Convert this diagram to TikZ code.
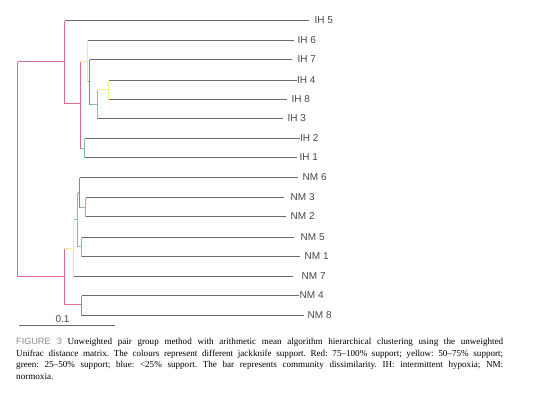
\documentclass[tikz,border=0pt]{standalone}
\usepackage{fontspec}
\setmainfont{Liberation Serif}
\newfontfamily\labfont{Liberation Sans}
\definecolor{cred}{HTML}{DC6A98}
\definecolor{cyel}{HTML}{F4EA88}
\definecolor{cgrn}{HTML}{86BF98}
\definecolor{cblu}{HTML}{6F8BC4}
\definecolor{cleaf}{HTML}{6A6A6A}
\definecolor{labgray}{HTML}{484848}
\definecolor{figgray}{HTML}{8A8A8A}
\begin{document}
\frenchspacing
\begin{tikzpicture}[x=1pt,y=-1pt,
  br/.style={line width=1.15pt},
  bred/.style={br,draw=cred},
  byel/.style={br,draw=cyel},
  bgrn/.style={br,draw=cgrn},
  bblu/.style={br,draw=cblu},
  bleaf/.style={line width=1pt,draw=cleaf},
  lab/.style={anchor=west,inner ysep=0pt,text=labgray,font=\labfont\fontsize{10}{11}\selectfont},
  captext/.style={anchor=north west,inner sep=0pt,text width=487pt,align=justify,font=\fontsize{9.1}{11.7}\selectfont}]
\useasboundingbox (0,0) rectangle (554,397);
\begin{scope}[shift={(0.5,0.5)}]
% internal nodes
\coordinate (root) at (17,168);
\coordinate (ih) at (64,61);
\coordinate (a) at (80,103);
\coordinate (b) at (87,61);
\coordinate (d) at (89,81);
\coordinate (e) at (97,104);
\coordinate (f) at (108,89);
\coordinate (c) at (84,148);
\coordinate (nm) at (64,276);
\coordinate (g) at (73,248);
\coordinate (i) at (77,219);
\coordinate (j) at (79,192);
\coordinate (l) at (85,207);
\coordinate (k) at (81,246);
\coordinate (h) at (81,304);
% leaf labels
\node[lab,inner xsep=6pt] (IH5) at (308,20) {IH 5};
\node[lab,inner xsep=4pt] (IH6) at (293,40) {IH 6};
\node[lab,inner xsep=6pt] (IH7) at (291,59) {IH 7};
\node[lab,inner xsep=0.5pt] (IH4) at (296,80) {IH 4};
\node[lab,inner xsep=5pt] (IH8) at (286,99) {IH 8};
\node[lab,inner xsep=5pt] (IH3) at (282,118) {IH 3};
\node[lab,inner xsep=0.5pt] (IH2) at (299,138) {IH 2};
\node[lab,inner xsep=3pt] (IH1) at (296,157) {IH 1};
\node[lab,inner xsep=5pt] (NM6) at (297,177) {NM 6};
\node[lab,inner xsep=7pt] (NM3) at (283,197) {NM 3};
\node[lab,inner xsep=5pt] (NM2) at (285,216) {NM 2};
\node[lab,inner xsep=7pt] (NM5) at (293,237) {NM 5};
\node[lab,inner xsep=5pt] (NM1) at (299,256) {NM 1};
\node[lab,inner xsep=9pt] (NM7) at (292,276) {NM 7};
\node[lab,inner xsep=1pt] (NM4) at (298,295) {NM 4};
\node[lab,inner xsep=4pt] (NM8) at (303,315) {NM 8};
% leaves
\draw[bleaf] (IH5 -| ih) -- (IH5.west);
\draw[bleaf] (IH6 -| b) -- (IH6.west);
\draw[bleaf] (IH7 -| d) -- (IH7.west);
\draw[bleaf] (IH4 -| f) -- (IH4.west);
\draw[bleaf] (IH8 -| f) -- (IH8.west);
\draw[bleaf] (IH3 -| e) -- (IH3.west);
\draw[bleaf] (IH2 -| c) -- (IH2.west);
\draw[bleaf] (IH1 -| c) -- (IH1.west);
\draw[bleaf] (NM6 -| j) -- (NM6.west);
\draw[bleaf] (NM3 -| l) -- (NM3.west);
\draw[bleaf] (NM2 -| l) -- (NM2.west);
\draw[bleaf] (NM5 -| k) -- (NM5.west);
\draw[bleaf] (NM1 -| k) -- (NM1.west);
\draw[bleaf] (NM7 -| g) -- (NM7.west);
\draw[bleaf] (NM4 -| h) -- (NM4.west);
\draw[bleaf] (NM8 -| h) -- (NM8.west);
% stems of internal nodes
\draw[bred] (ih -| root) -- (ih);
\draw[bred] (nm -| root) -- (nm);
\draw[bred] (a -| ih) -- (a);
\draw[byel] (b -| a) -- (b);
\draw[bgrn] (c -| a) -- (c);
\draw[bblu] (d -| b) -- (d);
\draw[bgrn] (e -| d) -- (e);
\draw[byel] (f -| e) -- (f);
\draw[byel] (g -| nm) -- (g);
\draw[bred] (h -| nm) -- (h);
\draw[bgrn] (i -| g) -- (i);
\draw[bblu] (j -| i) -- (j);
\draw[bgrn] (k -| i) -- (k);
\draw[bgrn] (l -| j) -- (l);
% verticals
\draw[bred] (ih -| root) -- (nm -| root);
\draw[bred] (IH5 -| ih) -- (a -| ih);
\draw[bred] (b -| a) -- (c -| a);
\draw[byel] (IH6 -| b) -- (d -| b);
\draw[bblu] (IH7 -| d) -- (e -| d);
\draw[bgrn] (f -| e) -- (IH3 -| e);
\draw[byel] (IH4 -| f) -- (IH8 -| f);
\draw[bgrn] (IH2 -| c) -- (IH1 -| c);
\draw[bred] (g -| nm) -- (h -| nm);
\draw[byel] (i -| g) -- (NM7 -| g);
\draw[bgrn] (j -| i) -- (k -| i);
\draw[bblu] (NM6 -| j) -- (l -| j);
\draw[bgrn] (NM3 -| l) -- (NM2 -| l);
\draw[bgrn] (NM5 -| k) -- (NM1 -| k);
\draw[bred] (NM4 -| h) -- (NM8 -| h);
% scale bar
\coordinate (sb1) at (18,325);
\coordinate (sb2) at (114,325);
\draw[bleaf] (sb1) -- (sb2);
\node[text=labgray,font=\labfont\fontsize{10}{11}\selectfont,anchor=base] (sbl) at (62,322) {0.1};
\end{scope}
% caption
\node[captext] (caption) at (16,338) {{\labfont\color{figgray}FIGURE 3} Unweighted pair group method with arithmetic mean algorithm hierarchical clustering using the unweighted\linebreak Unifrac distance matrix. The colours represent different jackknife support. Red: 75--100\% support; yellow: 50--75\% support;\linebreak green: 25--50\% support; blue: {<}25\% support. The bar represents community dissimilarity. IH: intermittent hypoxia; NM:\linebreak normoxia.};
\end{tikzpicture}
\end{document}
